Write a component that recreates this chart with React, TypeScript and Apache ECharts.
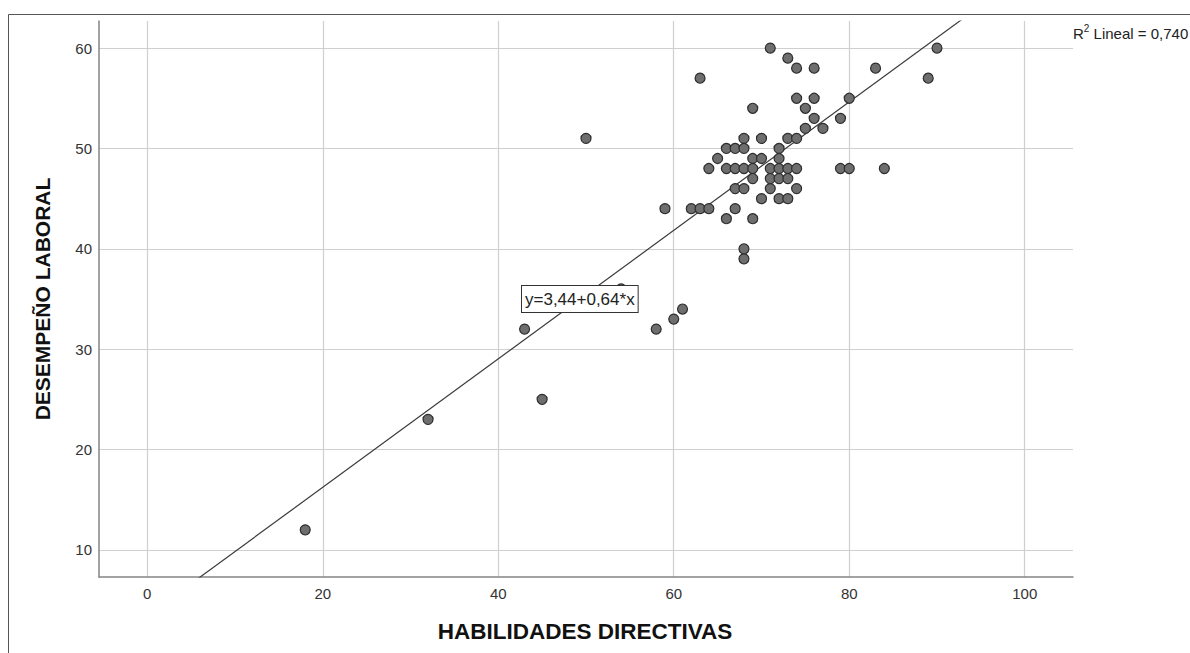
import React, { useEffect, useRef } from "react";
import * as echarts from "echarts";

// HABILIDADES DIRECTIVAS (x) and DESEMPEÑO LABORAL (y)
const habilidades: number[] = [
  18, 32, 43, 45, 50, 54, 58, 60, 61, 59, 62, 63, 64, 67, 66, 69, 68, 68,
  71, 73, 74, 76, 83, 90, 89, 63,
  74, 76, 80, 69, 75, 76, 79, 75, 77,
  68, 70, 73, 74,
  66, 67, 68, 72,
  65, 69, 70, 72,
  64, 66, 67, 68, 69, 71, 72, 73, 74, 79, 80, 84,
  69, 71, 72, 73,
  67, 68, 71, 74,
  70, 72, 73,
];
const desempeno: number[] = [
  12, 23, 32, 25, 51, 36, 32, 33, 34, 44, 44, 44, 44, 44, 43, 43, 40, 39,
  60, 59, 58, 58, 58, 60, 57, 57,
  55, 55, 55, 54, 54, 53, 53, 52, 52,
  51, 51, 51, 51,
  50, 50, 50, 50,
  49, 49, 49, 49,
  48, 48, 48, 48, 48, 48, 48, 48, 48, 48, 48, 48,
  47, 47, 47, 47,
  46, 46, 46, 46,
  45, 45, 45,
];

// Linear fit (as printed on the chart)
const intercept = 3.44;
const slope = 0.64;
const r2Text = "0,740";
const eqText = "y=3,44+0,64*x";

const xRange: [number, number] = [-5.5, 105.5];
const yRange: [number, number] = [7.3, 62.7];

const FONT = "'Liberation Sans', Arial, sans-serif";

export default function App() {
  const ref = useRef<HTMLDivElement>(null);

  useEffect(() => {
    if (!ref.current) return;
    const chart = echarts.init(ref.current, undefined, { renderer: "svg" });

    const points = habilidades.map((x, i) => [x, desempeno[i]]);
    const fitLine = xRange.map((x) => [x, intercept + slope * x]);

    chart.setOption({
      animation: false,
      backgroundColor: "#ffffff",
      textStyle: { fontFamily: FONT },
      grid: { left: 99, right: 117, top: 21, bottom: 76, containLabel: false },
      xAxis: {
        type: "value",
        min: xRange[0],
        max: xRange[1],
        splitNumber: 5,
        axisLine: { show: true, onZero: false, lineStyle: { color: "#858585", width: 1.5 } },
        axisTick: { show: false },
        axisLabel: {
          color: "#333333",
          fontSize: 15,
          fontFamily: FONT,
          margin: 9,
          showMinLabel: false,
          showMaxLabel: false,
        },
        splitLine: {
          show: true,
          showMinLine: false,
          showMaxLine: false,
          lineStyle: { color: "#cfcfcf", width: 1.2 },
        },
      },
      yAxis: {
        type: "value",
        min: yRange[0],
        max: yRange[1],
        splitNumber: 5,
        axisLine: { show: true, onZero: false, lineStyle: { color: "#858585", width: 1.5 } },
        axisTick: { show: false },
        axisLabel: {
          color: "#333333",
          fontSize: 15,
          fontFamily: FONT,
          margin: 7,
          showMinLabel: false,
          showMaxLabel: false,
        },
        splitLine: {
          show: true,
          showMinLine: false,
          showMaxLine: false,
          lineStyle: { color: "#cfcfcf", width: 1.2 },
        },
      },
      series: [
        {
          type: "line",
          data: fitLine,
          symbol: "none",
          clip: true,
          lineStyle: { color: "#3a3a3a", width: 1.2 },
          z: 3,
          silent: true,
        },
        {
          type: "scatter",
          data: points,
          symbol: "circle",
          symbolSize: 10,
          itemStyle: { color: "#6e6e6e", borderColor: "#2e2e2e", borderWidth: 1.2, opacity: 1 },
          z: 4,
        },
      ],
      graphic: [
        {
          type: "rect",
          shape: { x: 8.5, y: 14.5, width: 1200, height: 700 },
          style: { fill: "none", stroke: "#555555", lineWidth: 1 },
          silent: true,
          z: 0,
        },
        {
          type: "text",
          x: 522,
          y: 286,
          z: 10,
          style: {
            text: eqText,
            fontSize: 17,
            fontFamily: FONT,
            fill: "#222222",
            backgroundColor: "#ffffff",
            borderColor: "#333333",
            borderWidth: 1,
            padding: [5, 3, 4, 3],
          },
        },
        {
          type: "text",
          x: 1073,
          y: 32,
          style: {
            text: "{b|R}{s|2}{b| Lineal = " + r2Text + "}",
            verticalAlign: "middle",
            fill: "#222222",
            rich: {
              b: { fontSize: 15, fontFamily: FONT, fill: "#222222", lineHeight: 18, verticalAlign: "bottom" },
              s: { fontSize: 10, fontFamily: FONT, fill: "#222222", lineHeight: 18, verticalAlign: "top" },
            },
          },
        },
        {
          type: "text",
          x: 585,
          y: 631,
          style: {
            text: "HABILIDADES DIRECTIVAS",
            fontSize: 22.5,
            fontWeight: "bold",
            fontFamily: FONT,
            fill: "#111111",
            align: "center",
            verticalAlign: "middle",
          },
        },
        {
          type: "text",
          x: 42,
          y: 299,
          rotation: Math.PI / 2,
          style: {
            text: "DESEMPEÑO LABORAL",
            fontSize: 21,
            fontWeight: "bold",
            fontFamily: FONT,
            fill: "#111111",
            align: "center",
            verticalAlign: "middle",
          },
        },
      ],
    });

    return () => chart.dispose();
  }, []);

  return (
    <div
      ref={ref}
      style={{ position: "absolute", left: 0, top: 0, width: 1190, height: 653 }}
    />
  );
}
